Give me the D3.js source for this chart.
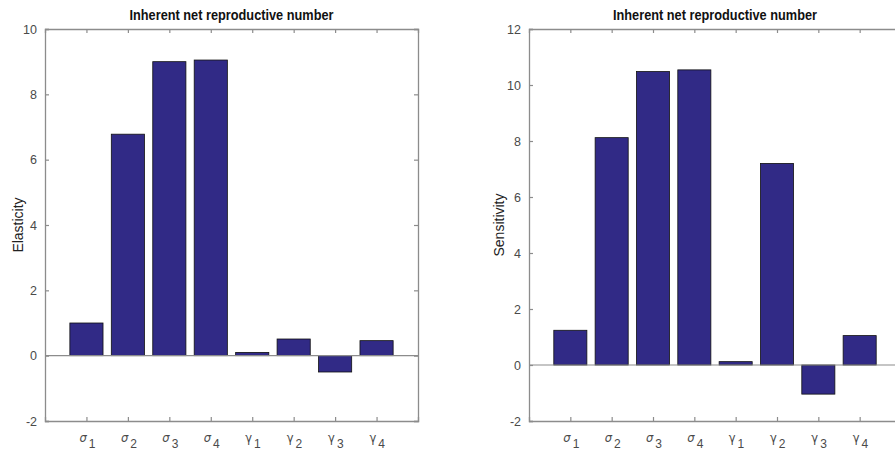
<!DOCTYPE html>
<html>
<head>
<meta charset="utf-8">
<script src="https://cdn.jsdelivr.net/npm/d3@7"></script>
<style>
  body { margin: 0; background: #fff; }
  svg { display: block; }
</style>
</head>
<body>
<div id="chart"></div>
<script>
// 横轴类别（希腊字母 + 下标）
var symbols = ['σ', 'σ', 'σ', 'σ', 'γ', 'γ', 'γ', 'γ'];
var subs = ['1', '2', '3', '4', '1', '2', '3', '4'];
// 左图：弹性
var elasticity = [1.0, 6.78, 9.0, 9.05, 0.1, 0.51, -0.5, 0.46];
var elasticityTicks = [-2, 0, 2, 4, 6, 8, 10];
// 右图：敏感度
var sensitivity = [1.24, 8.12, 10.48, 10.54, 0.12, 7.2, -1.04, 1.05];
var sensitivityTicks = [-2, 0, 2, 4, 6, 8, 10, 12];

var width = 895, height = 453;
var axisC = '#8c8c8c', textC = '#4a4a4a', barC = '#312a86';

var svg = d3.select('#chart').append('svg')
    .attr('width', width).attr('height', height);

function drawPanel(opt) {
    var x = d3.scaleLinear().domain([0, 9]).range([opt.left, opt.right]);
    var y = d3.scaleLinear().domain([opt.yMin, opt.yMax]).range([opt.bottom, opt.top]);
    var g = svg.append('g');
    var idx = d3.range(1, opt.values.length + 1);

    // 柱子
    g.selectAll('rect.bar').data(opt.values).enter().append('rect')
        .attr('class', 'bar')
        .attr('x', function (d, i) { return x(i + 1 - 0.4); })
        .attr('width', function () { return x(0.8) - x(0); })
        .attr('y', function (d) { return y(Math.max(0, d)); })
        .attr('height', function (d) { return Math.abs(y(d) - y(0)); })
        .attr('fill', barC)
        .attr('stroke', '#111')
        .attr('stroke-width', 0.8);

    // 零线
    g.append('line')
        .attr('x1', x(0)).attr('x2', x(9))
        .attr('y1', y(0)).attr('y2', y(0))
        .attr('stroke', axisC).attr('stroke-width', 1.2);

    // 坐标轴（刻度朝内）
    var left = g.append('g').attr('transform', 'translate(' + opt.left + ',0)')
        .call(d3.axisLeft(y).tickValues(opt.ticks).tickSize(-4).tickPadding(8)
            .tickFormat(function (d) { return String(d); }));
    var right = g.append('g').attr('transform', 'translate(' + opt.right + ',0)')
        .call(d3.axisRight(y).tickValues(opt.ticks).tickSize(-4).tickFormat(''));
    var bottom = g.append('g').attr('transform', 'translate(0,' + opt.bottom + ')')
        .call(d3.axisBottom(x).tickValues(idx).tickSize(-4).tickFormat(''));
    var top = g.append('g').attr('transform', 'translate(0,' + opt.top + ')')
        .call(d3.axisTop(x).tickValues(idx).tickSize(-4).tickFormat(''));

    [left, right, bottom, top].forEach(function (a) {
        a.select('.domain').attr('stroke', axisC).attr('stroke-width', 1.3);
        a.selectAll('.tick line').attr('stroke', axisC).attr('stroke-width', 1.2);
    });
    left.selectAll('.tick text')
        .attr('fill', textC)
        .attr('font-family', 'Liberation Sans, Arial, sans-serif')
        .attr('font-size', 12.5);

    // 横坐标标签
    var labs = g.selectAll('text.xlab').data(idx).enter().append('text')
        .attr('class', 'xlab')
        .attr('x', function (d) { return x(d) - 7; })
        .attr('y', opt.bottom + 21)
        .attr('fill', textC)
        .attr('font-family', 'DejaVu Sans, sans-serif')
        .attr('font-size', 11.5);
    labs.append('tspan')
        .attr('font-style', function (d) { return d <= 4 ? 'italic' : 'normal'; })
        .text(function (d) { return symbols[d - 1]; });
    labs.append('tspan')
        .attr('dx', 2).attr('dy', 6)
        .attr('font-family', 'Liberation Sans, Arial, sans-serif')
        .attr('font-size', 12)
        .text(function (d) { return subs[d - 1]; });

    // 标题
    g.append('text').text('Inherent net reproductive number')
        .attr('x', (opt.left + opt.right) / 2 - 102)
        .attr('y', 20)
        .attr('textLength', 204)
        .attr('lengthAdjust', 'spacingAndGlyphs')
        .attr('font-family', 'Liberation Sans, Arial, sans-serif')
        .attr('font-weight', 'bold')
        .attr('font-size', 14)
        .attr('fill', '#111');

    // 纵坐标名称
    g.append('text').text(opt.yLabel)
        .attr('transform', 'translate(' + opt.yLabelX + ',' + (opt.top + opt.bottom) / 2 + ') rotate(-90)')
        .attr('text-anchor', 'middle')
        .attr('font-family', 'Liberation Sans, Arial, sans-serif')
        .attr('font-size', 14)
        .attr('fill', '#222');
}

drawPanel({
    left: 45, right: 418, top: 29, bottom: 421,
    yMin: -2, yMax: 10, ticks: elasticityTicks,
    values: elasticity, yLabel: 'Elasticity', yLabelX: 23
});
drawPanel({
    left: 529, right: 901, top: 29, bottom: 421,
    yMin: -2, yMax: 12, ticks: sensitivityTicks,
    values: sensitivity, yLabel: 'Sensitivity', yLabelX: 504
});
</script>
</body>
</html>
